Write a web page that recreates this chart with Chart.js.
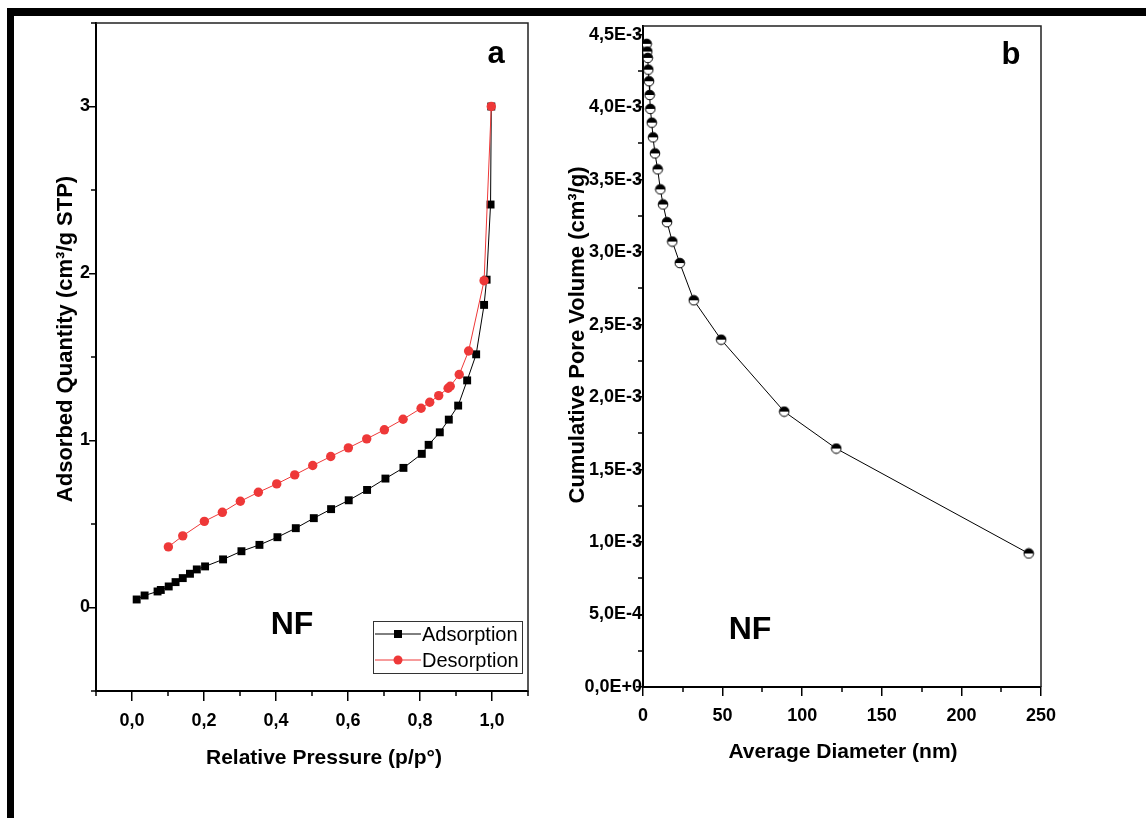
<!DOCTYPE html>
<html>
<head>
<meta charset="utf-8">
<title>NF - isotherm and cumulative pore volume</title>
<script src="https://cdn.jsdelivr.net/npm/chart.js@4.4.0/dist/chart.umd.min.js"></script>
<style>
  body { margin: 0; background: #fff; }
  #page { position: relative; width: 1146px; height: 818px; overflow: hidden; }
  #page canvas { position: absolute; top: 0; }
  #chartA { left: 0; }
  #chartB { left: 555px; }
  .bar { position: absolute; background: #000; }
</style>
</head>
<body>
<div id="page">
  <div class="bar" style="left:7px;top:8px;width:1139px;height:8px"></div>
  <div class="bar" style="left:7px;top:8px;width:7px;height:810px"></div>
  <canvas id="chartA" width="555" height="818"></canvas>
  <canvas id="chartB" width="591" height="818"></canvas>
</div>
<script>
// Panel a : isotherme N2
var pressureAds = [0.013, 0.035, 0.071, 0.080, 0.102, 0.121, 0.141, 0.161, 0.180, 0.203, 0.253, 0.304, 0.354, 0.404, 0.455, 0.505, 0.553, 0.602, 0.653, 0.704, 0.754, 0.805, 0.824, 0.855, 0.880, 0.906, 0.931, 0.956, 0.978, 0.985, 0.996, 0.998];
var quantityAds = [0.048, 0.072, 0.096, 0.105, 0.126, 0.152, 0.176, 0.202, 0.228, 0.246, 0.288, 0.337, 0.375, 0.421, 0.475, 0.535, 0.589, 0.642, 0.704, 0.772, 0.836, 0.920, 0.974, 1.049, 1.125, 1.209, 1.360, 1.516, 1.812, 1.963, 2.413, 3.000];
var pressureDes = [0.101, 0.141, 0.201, 0.251, 0.301, 0.351, 0.402, 0.452, 0.502, 0.552, 0.601, 0.652, 0.701, 0.753, 0.803, 0.827, 0.852, 0.878, 0.884, 0.909, 0.935, 0.978, 0.998];
var quantityDes = [0.363, 0.429, 0.516, 0.570, 0.636, 0.690, 0.740, 0.794, 0.850, 0.904, 0.956, 1.010, 1.064, 1.127, 1.193, 1.229, 1.269, 1.313, 1.325, 1.395, 1.536, 1.957, 3.000];

var xTicksA = [0, 0.2, 0.4, 0.6, 0.8, 1.0];
var xMinorA = [-0.1, 0.1, 0.3, 0.5, 0.7, 0.9, 1.1];
var yTicksA = [0, 1, 2, 3];
var yMinorA = [-0.5, 0.5, 1.5, 2.5, 3.5];

// Panel b : volume poreux cumule
var diameter = [2.3, 2.7, 3.0, 3.3, 3.8, 4.2, 4.6, 5.5, 6.3, 7.5, 9.2, 10.9, 12.6, 15.1, 18.4, 23.1, 31.9, 49.1, 88.7, 121.4, 242.3];
var poreVolume = [4.437e-3, 4.384e-3, 4.340e-3, 4.259e-3, 4.179e-3, 4.084e-3, 3.988e-3, 3.893e-3, 3.792e-3, 3.681e-3, 3.571e-3, 3.433e-3, 3.329e-3, 3.207e-3, 3.073e-3, 2.925e-3, 2.668e-3, 2.396e-3, 1.900e-3, 1.645e-3, 0.921e-3];

var xTicksB = [0, 50, 100, 150, 200, 250];
var xMinorB = [25, 75, 125, 175, 225];
var yTicksB = [0, 5e-4, 1e-3, 1.5e-3, 2e-3, 2.5e-3, 3e-3, 3.5e-3, 4e-3, 4.5e-3];
var yMinorB = [2.5e-4, 7.5e-4, 1.25e-3, 1.75e-3, 2.25e-3, 2.75e-3, 3.25e-3, 3.75e-3, 4.25e-3];

var FONT = "'Liberation Sans', Arial, sans-serif";
Chart.defaults.font.family = FONT;
Chart.defaults.color = '#000';

function points(xs, ys) {
    return xs.map(function (x, i) { return { x: x, y: ys[i] }; });
}

function fixTicks(list) {
    return function (scale) {
        scale.ticks = list.map(function (v) { return { value: v }; });
    };
}

function comma(v, d) {
    return v.toFixed(d).replace('.', ',');
}

function sciLabel(v) {
    if (v === 0) return '0,0E+0';
    var e = Math.floor(Math.log10(v) + 1e-9);
    return comma(v / Math.pow(10, e), 1) + 'E' + e;
}

// rond moitie noir / moitie blanc
function halfDot() {
    var c = document.createElement('canvas');
    c.width = 12; c.height = 12;
    var g = c.getContext('2d');
    g.beginPath(); g.arc(6, 6, 4.8, 0, 2 * Math.PI); g.fillStyle = '#fff'; g.fill();
    g.beginPath(); g.arc(6, 6, 4.8, Math.PI, 2 * Math.PI); g.closePath(); g.fillStyle = '#000'; g.fill();
    g.beginPath(); g.arc(6, 6, 4.8, 0, 2 * Math.PI); g.lineWidth = 1; g.strokeStyle = '#000'; g.stroke();
    return c;
}

function axisGrid(len) {
    return { display: true, drawOnChartArea: false, drawTicks: true, tickLength: len, color: '#000', lineWidth: 1.5 };
}

// cadre, petites graduations, textes, legende
var decor = {
    id: 'decor',
    afterDraw: function (chart, args, opts) {
        var ctx = chart.ctx;
        var a = chart.chartArea;
        var sx = chart.scales.x, sy = chart.scales.y;
        ctx.save();
        ctx.strokeStyle = '#222';
        ctx.lineWidth = 1.5;
        ctx.beginPath();
        ctx.moveTo(a.left, a.top);
        ctx.lineTo(a.right, a.top);
        ctx.lineTo(a.right, a.bottom);
        ctx.stroke();

        ctx.strokeStyle = '#000';
        ctx.beginPath();
        opts.minorX.forEach(function (v) {
            var x = Math.round(sx.getPixelForValue(v));
            ctx.moveTo(x, a.bottom); ctx.lineTo(x, a.bottom + 5);
        });
        opts.minorY.forEach(function (v) {
            var y = Math.round(sy.getPixelForValue(v));
            ctx.moveTo(a.left, y); ctx.lineTo(a.left - 5, y);
        });
        ctx.stroke();

        opts.texts.forEach(function (t) {
            ctx.save();
            ctx.translate(t.x, t.y);
            if (t.rotate) ctx.rotate(-Math.PI / 2);
            ctx.font = t.font;
            ctx.fillStyle = '#000';
            ctx.textAlign = 'center';
            ctx.textBaseline = 'alphabetic';
            ctx.fillText(t.text, 0, 0);
            ctx.restore();
        });

        var L = opts.legend;
        if (L) {
            ctx.lineWidth = 1;
            ctx.strokeStyle = '#333';
            ctx.strokeRect(L.x + 0.5, L.y + 0.5, L.w, L.h);
            chart.data.datasets.forEach(function (ds, i) {
                var y = L.y + 13 + i * 26;
                ctx.strokeStyle = ds.borderColor;
                ctx.beginPath();
                ctx.moveTo(L.x + 2, y); ctx.lineTo(L.x + 48, y);
                ctx.stroke();
                ctx.fillStyle = ds.backgroundColor;
                if (ds.pointStyle === 'rect') {
                    ctx.fillRect(L.x + 21, y - 4, 8, 8);
                } else {
                    ctx.beginPath(); ctx.arc(L.x + 25, y, 4.5, 0, 2 * Math.PI); ctx.fill();
                }
                ctx.fillStyle = '#000';
                ctx.font = '20px ' + FONT;
                ctx.textAlign = 'left';
                ctx.textBaseline = 'middle';
                ctx.fillText(ds.label, L.x + 49, y + 1);
            });
        }
        ctx.restore();
    }
};

// Graphique a
new Chart(document.getElementById('chartA'), {
    type: 'line',
    data: {
        datasets: [{
            label: 'Adsorption',
            data: points(pressureAds, quantityAds),
            borderColor: '#000',
            backgroundColor: '#000',
            borderWidth: 1,
            pointStyle: 'rect',
            pointRadius: 5.6,
            pointBorderWidth: 0,
            order: 1
        }, {
            label: 'Desorption',
            data: points(pressureDes, quantityDes),
            borderColor: '#ee3838',
            backgroundColor: '#ee3838',
            borderWidth: 1,
            pointStyle: 'circle',
            pointRadius: 4.7,
            pointBorderWidth: 0,
            order: 0
        }]
    },
    options: {
        responsive: false,
        animation: false,
        devicePixelRatio: 1,
        events: [],
        layout: { padding: { left: 0, top: 23, right: 27, bottom: 0 } },
        plugins: {
            legend: { display: false },
            tooltip: { enabled: false },
            decor: {
                minorX: xMinorA,
                minorY: yMinorA,
                legend: { x: 373, y: 621, w: 149, h: 52 },
                texts: [
                    { text: 'Relative Pressure (p/p°)', x: 324, y: 764, font: 'bold 21px ' + FONT },
                    { text: 'Adsorbed Quantity (cm³/g STP)', x: 72, y: 339, rotate: true, font: 'bold 22px ' + FONT },
                    { text: 'a', x: 496, y: 63, font: 'bold 31px ' + FONT },
                    { text: 'NF', x: 292, y: 634, font: 'bold 32px ' + FONT }
                ]
            }
        },
        scales: {
            x: {
                type: 'linear',
                min: -0.1,
                max: 1.1,
                afterBuildTicks: fixTicks(xTicksA),
                afterFit: function (s) { s.height = 127; },
                grid: axisGrid(10),
                border: { display: true, color: '#000', width: 2 },
                ticks: {
                    autoSkip: false,
                    maxRotation: 0,
                    padding: 9,
                    font: { size: 18, weight: 'bold' },
                    callback: function (v) { return comma(v, 1); }
                }
            },
            y: {
                type: 'linear',
                min: -0.5,
                max: 3.5,
                afterBuildTicks: fixTicks(yTicksA),
                afterFit: function (s) { s.width = 96; },
                grid: axisGrid(7),
                border: { display: true, color: '#000', width: 2 },
                ticks: {
                    autoSkip: false,
                    padding: -1,
                    font: { size: 18, weight: 'bold' },
                    callback: function (v) { return String(v); }
                }
            }
        }
    },
    plugins: [decor]
});

// Graphique b
new Chart(document.getElementById('chartB'), {
    type: 'line',
    data: {
        datasets: [{
            label: 'NF',
            data: points(diameter, poreVolume),
            borderColor: '#000',
            backgroundColor: '#000',
            borderWidth: 1,
            pointStyle: halfDot(),
            pointRadius: 5
        }]
    },
    options: {
        responsive: false,
        animation: false,
        devicePixelRatio: 1,
        events: [],
        layout: { padding: { left: 0, top: 26, right: 105, bottom: 0 } },
        plugins: {
            legend: { display: false },
            tooltip: { enabled: false },
            decor: {
                minorX: xMinorB,
                minorY: yMinorB,
                legend: null,
                texts: [
                    { text: 'Average Diameter (nm)', x: 288, y: 758, font: 'bold 21px ' + FONT },
                    { text: 'Cumulative Pore Volume (cm³/g)', x: 29, y: 335, rotate: true, font: 'bold 22px ' + FONT },
                    { text: 'b', x: 456, y: 64, font: 'bold 31px ' + FONT },
                    { text: 'NF', x: 195, y: 639, font: 'bold 32px ' + FONT }
                ]
            }
        },
        scales: {
            x: {
                type: 'linear',
                min: 0,
                max: 250,
                afterBuildTicks: fixTicks(xTicksB),
                afterFit: function (s) { s.height = 131; },
                grid: axisGrid(9),
                border: { display: true, color: '#000', width: 2 },
                ticks: {
                    autoSkip: false,
                    maxRotation: 0,
                    padding: 9,
                    font: { size: 18, weight: 'bold' },
                    callback: function (v) { return String(v); }
                }
            },
            y: {
                type: 'linear',
                min: 0,
                max: 4.56e-3,
                afterBuildTicks: fixTicks(yTicksB),
                afterFit: function (s) { s.width = 88; },
                grid: axisGrid(7),
                border: { display: true, color: '#000', width: 2 },
                ticks: {
                    autoSkip: false,
                    padding: -6,
                    font: { size: 18, weight: 'bold' },
                    callback: function (v) { return sciLabel(v); }
                }
            }
        }
    },
    plugins: [decor]
});
</script>
</body>
</html>
